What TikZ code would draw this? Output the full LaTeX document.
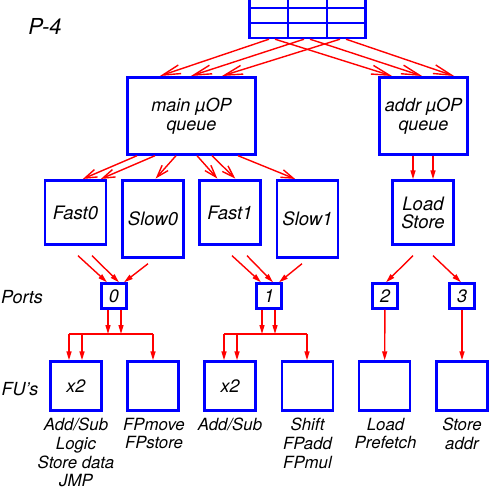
\documentclass[tikz,border=0pt]{standalone}
\usepackage{fontspec}
\setmainfont{TeX Gyre Heros}
\usetikzlibrary{arrows.meta}

\begin{document}
\begin{tikzpicture}[x=1pt,y=-1pt,
    box/.style={draw=blue,line width=2.4pt,inner sep=0pt,align=center,font=\fontsize{18}{18.5}\selectfont\itshape},
    unitbox/.style={box,minimum width=61pt,font=\fontsize{18.5}{18}\selectfont\itshape},
    portbox/.style={box,minimum width=25pt,minimum height=25pt},
    fubox/.style={box,minimum width=51pt,minimum height=49pt},
    lbl/.style={inner sep=0pt,align=center,font=\fontsize{16.8}{18.8}\selectfont\itshape},
    arr/.style={red,line width=1.4pt,shorten >=1pt,-{Straight Barb[length=18pt,width=9pt,line width=1.4pt]}},
    sarr/.style={arr,-{Straight Barb[length=12pt,width=8pt,line width=1.4pt]}},
    tri/.style={red,line width=1.4pt,-{Triangle[length=9pt,width=5pt]}},
    bus/.style={red,line width=1.4pt}
]
\useasboundingbox (0,0) rectangle (489,489);
\node[font=\fontsize{22}{24}\selectfont\itshape] (title) at (45,26) {P-4};
\node[draw=blue,line width=2.4pt,minimum width=116pt,minimum height=45pt] (trace) at (307.5,15.5) {};
\draw[blue,line width=1.2pt] (249,8) -- (366,8) (249,23) -- (366,23) (288,-8) -- (288,38) (327,-8) -- (327,38);
\node[box,minimum width=128pt,minimum height=77pt] (mainq) at (191.5,116) {main µOP\\queue};
\node[box,minimum width=88pt,minimum height=77pt] (addrq) at (423.5,116) {addr µOP\\queue};
\node[unitbox,minimum height=64pt] (fast0) at (75.5,212.5) {Fast0};
\node[unitbox,minimum height=77pt] (slow0) at (153,219) {Slow0};
\node[unitbox,minimum height=64pt] (fast1) at (230,212.5) {Fast1};
\node[unitbox,minimum height=77pt] (slow1) at (307.5,219) {Slow1};
\node[unitbox,minimum height=64pt] (ldst) at (423,212.5) {Load\\Store};
\node[box,draw=none] (ports) at (22,297) {Ports};
\node[portbox] (p0) at (114,296) {0};
\node[portbox] (p1) at (269,296) {1};
\node[portbox] (p2) at (385,296) {2};
\node[portbox] (p3) at (462,296) {3};
\node[box,draw=none] (fus) at (20,389) {FU's};
\node[fubox] (fu1) at (76,386) {x2};
\node[fubox] (fu2) at (153,386) {};
\node[fubox] (fu3) at (230,386) {x2};
\node[fubox] (fu4) at (307.5,386) {};
\node[fubox] (fu5) at (384.5,386) {};
\node[fubox] (fu6) at (462,386) {};
\node[lbl,anchor=north] (l1) at ([yshift=-6pt]fu1.south) {Add/Sub\\Logic\\Store data\\JMP};
\node[lbl,anchor=north] (l2) at ([xshift=1pt,yshift=-6pt]fu2.south) {FPmove\\FPstore};
\node[lbl,anchor=north] (l3) at ([yshift=-6pt]fu3.south) {Add/Sub};
\node[lbl,anchor=north] (l4) at ([yshift=-6pt]fu4.south) {Shift\\FPadd\\FPmul};
\node[lbl,anchor=north] (l5) at ([xshift=1pt,yshift=-6pt]fu5.south) {Load\\Prefetch};
\node[lbl,anchor=north] (l6) at ([yshift=-6pt]fu6.south) {Store\\addr};
\coordinate (bus0w) at (69,334);
\coordinate (bus0e) at (153,334);
\coordinate (bus1w) at (224,334);
\coordinate (bus1e) at (307,334);
\draw[arr] ([xshift=-38.5pt]trace.south) -- ([xshift=-32.5pt]mainq.north);
\draw[arr] ([xshift=-3.5pt]trace.south) -- ([xshift=-1.5pt]mainq.north);
\draw[arr] ([xshift=32.5pt]trace.south) -- ([xshift=29.5pt]mainq.north);
\draw[arr] ([xshift=-32.5pt]trace.south) -- ([xshift=-30.5pt]addrq.north);
\draw[arr] ([xshift=2.5pt]trace.south) -- ([xshift=-0.5pt]addrq.north);
\draw[arr] ([xshift=38.5pt]trace.south) -- ([xshift=31.5pt]addrq.north);
\draw[sarr] ([xshift=-54.5pt]mainq.south) -- ([xshift=6.5pt]fast0.north);
\draw[sarr] ([xshift=-36.5pt]mainq.south) -- ([xshift=24.5pt]fast0.north);
\draw[sarr] ([xshift=-15.5pt]mainq.south) -- ([xshift=2pt]slow0.north);
\draw[sarr] ([xshift=5.5pt]mainq.south) -- ([xshift=-12pt]fast1.north);
\draw[sarr] ([xshift=20.5pt]mainq.south) -- ([xshift=6pt]fast1.north);
\draw[sarr] ([xshift=46.5pt]mainq.south) -- ([xshift=-11.5pt]slow1.north);
\draw[tri] ([xshift=-10.5pt]addrq.south) -- ([xshift=-10.5pt]addrq.south |- ldst.north);
\draw[tri] ([xshift=9.5pt]addrq.south) -- ([xshift=9.5pt]addrq.south |- ldst.north);
\draw[tri] ([xshift=2.5pt,yshift=-10pt]fast0.south) -- ([xshift=-7pt]p0.north);
\draw[tri] ([xshift=16.5pt,yshift=-10pt]fast0.south) -- ([xshift=5pt]p0.north);
\draw[tri] ([xshift=-5pt,yshift=-5pt]slow0.south) -- ([xshift=10pt]p0.north);
\draw[tri] ([xshift=2pt,yshift=-10pt]fast1.south) -- ([xshift=-8pt]p1.north);
\draw[tri] ([xshift=17pt,yshift=-10pt]fast1.south) -- ([xshift=4pt]p1.north);
\draw[tri] ([xshift=-5.5pt,yshift=-5pt]slow1.south) -- ([xshift=10pt]p1.north);
\draw[tri] ([xshift=-10pt,yshift=-10pt]ldst.south) -- ([xshift=1pt]p2.north);
\draw[tri] ([xshift=10pt,yshift=-10pt]ldst.south) -- ([xshift=-1pt]p3.north);
\draw[bus] (bus0w) -- (bus0e);
\draw[bus] (bus1w) -- (bus1e);
\draw[tri] ([xshift=-6pt]p0.south) -- ([xshift=-6pt]p0.south |- bus0w);
\draw[tri] ([xshift=7pt]p0.south) -- ([xshift=7pt]p0.south |- bus0w);
\draw[tri] (bus0w) -- (bus0w |- fu1.north);
\draw[tri] ([xshift=6pt]fu1.north |- bus0w) -- ([xshift=6pt]fu1.north);
\draw[tri] (bus0e) -- (bus0e |- fu2.north);
\draw[tri] ([xshift=-7pt]p1.south) -- ([xshift=-7pt]p1.south |- bus1w);
\draw[tri] ([xshift=6pt]p1.south) -- ([xshift=6pt]p1.south |- bus1w);
\draw[tri] (bus1w) -- (bus1w |- fu3.north);
\draw[tri] ([xshift=7pt]fu3.north |- bus1w) -- ([xshift=7pt]fu3.north);
\draw[tri] (bus1e) -- (bus1e |- fu4.north);
\draw[tri] (p2) -- (fu5);
\draw[tri] (p3) -- (fu6);
\end{tikzpicture}
\end{document}
